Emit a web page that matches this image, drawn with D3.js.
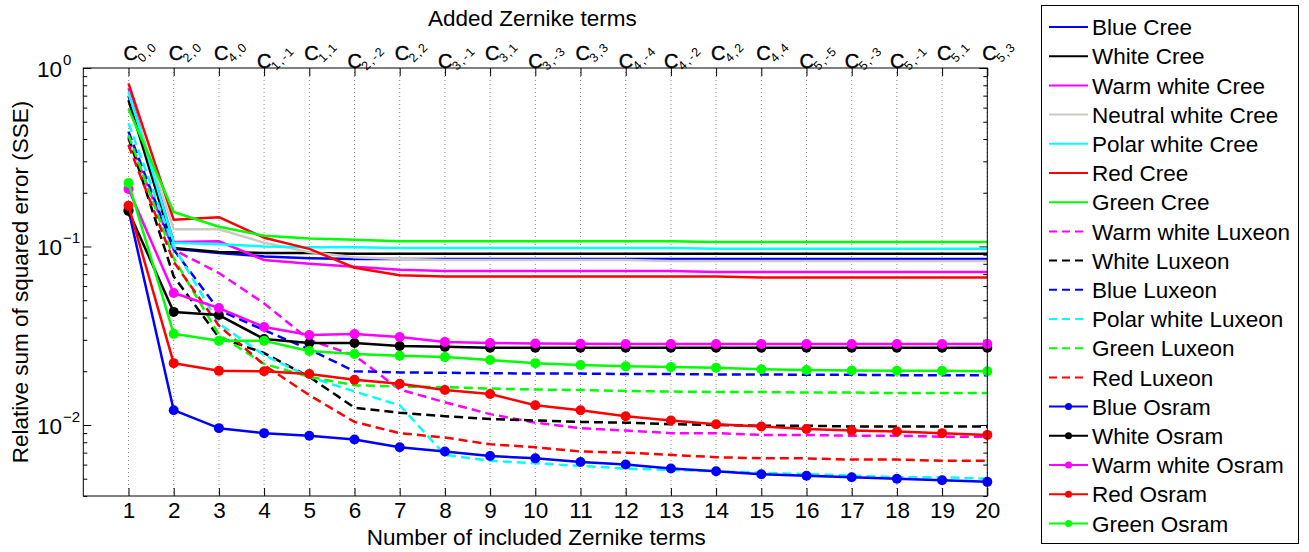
<!DOCTYPE html>
<html>
<head>
<meta charset="utf-8">
<script src="https://cdn.jsdelivr.net/npm/d3@7"></script>
<style>
  body { margin: 0; background: #fff; }
  svg { display: block; font-family: "Liberation Sans", Arial, Helvetica, sans-serif; }
</style>
</head>
<body>
<svg id="chart" width="1309" height="552"></svg>
<script>
/* Relative SSE vs number of Zernike terms, log y axis */

const terms = d3.range(1, 21);
const zernikeN = [0, 2, 4, 1, 1, 2, 2, 3, 3, 3, 3, 4, 4, 4, 4, 5, 5, 5, 5, 5];
const zernikeM = [0, 0, 0, -1, 1, -2, 2, -1, 1, -3, 3, -4, -2, 2, 4, -5, -3, -1, 1, 3];
const yMajorTicks = [1, 0.1, 0.01];
const yMajorExp = ['0', '\u22121', '\u22122'];

// Cree (solid)
const blueCree = [0.70, 0.097, 0.092, 0.088, 0.086, 0.085, 0.085, 0.085, 0.085, 0.085, 0.085, 0.085, 0.085, 0.085, 0.085, 0.085, 0.085, 0.085, 0.085, 0.085];
const whiteCree = [0.66, 0.098, 0.093, 0.092, 0.092, 0.091, 0.091, 0.091, 0.091, 0.091, 0.091, 0.091, 0.091, 0.091, 0.091, 0.091, 0.091, 0.091, 0.091, 0.091];
const warmWhiteCree = [0.77, 0.106, 0.107, 0.084, 0.080, 0.077, 0.074, 0.073, 0.073, 0.073, 0.073, 0.073, 0.073, 0.072, 0.072, 0.072, 0.072, 0.072, 0.072, 0.072];
const neutralWhiteCree = [0.72, 0.125, 0.125, 0.105, 0.093, 0.087, 0.085, 0.084, 0.084, 0.084, 0.084, 0.084, 0.083, 0.083, 0.083, 0.083, 0.083, 0.083, 0.083, 0.083];
const polarWhiteCree = [0.74, 0.105, 0.103, 0.100, 0.099, 0.099, 0.098, 0.098, 0.098, 0.098, 0.098, 0.098, 0.098, 0.097, 0.097, 0.097, 0.097, 0.097, 0.097, 0.097];
const redCree = [0.82, 0.141, 0.146, 0.112, 0.097, 0.076, 0.069, 0.068, 0.068, 0.068, 0.068, 0.068, 0.068, 0.068, 0.067, 0.067, 0.067, 0.067, 0.067, 0.067];
const greenCree = [0.59, 0.156, 0.129, 0.115, 0.111, 0.109, 0.107, 0.107, 0.107, 0.107, 0.107, 0.107, 0.107, 0.106, 0.106, 0.106, 0.106, 0.106, 0.106, 0.106];

// Luxeon (dashed)
const warmWhiteLuxeon = [0.40, 0.096, 0.071, 0.048, 0.030, 0.0245, 0.0158, 0.0134, 0.0115, 0.0103, 0.0096, 0.0093, 0.0090, 0.0090, 0.0088, 0.0088, 0.0087, 0.0087, 0.0086, 0.0086];
const whiteLuxeon = [0.41, 0.068, 0.031, 0.0253, 0.0186, 0.0125, 0.0117, 0.0112, 0.0108, 0.0106, 0.0104, 0.0103, 0.0101, 0.0100, 0.0099, 0.0099, 0.0098, 0.0098, 0.0098, 0.0098];
const blueLuxeon = [0.44, 0.096, 0.044, 0.034, 0.0265, 0.0200, 0.0197, 0.0196, 0.0195, 0.0194, 0.0194, 0.0193, 0.0193, 0.0192, 0.0192, 0.0191, 0.0191, 0.0190, 0.0190, 0.0190];
const polarWhiteLuxeon = [0.49, 0.100, 0.037, 0.0246, 0.0186, 0.0154, 0.0129, 0.0068, 0.0063, 0.0061, 0.0059, 0.0057, 0.0056, 0.0055, 0.0054, 0.0053, 0.0052, 0.0051, 0.0051, 0.0050];
const greenLuxeon = [0.42, 0.086, 0.032, 0.022, 0.0186, 0.0167, 0.0164, 0.0163, 0.0160, 0.0158, 0.0157, 0.0155, 0.0154, 0.0153, 0.0153, 0.0152, 0.0152, 0.0151, 0.0151, 0.0151];
const redLuxeon = [0.37, 0.082, 0.036, 0.0217, 0.0147, 0.0104, 0.0090, 0.0085, 0.0078, 0.0075, 0.0071, 0.0070, 0.0068, 0.0066, 0.0065, 0.0065, 0.0064, 0.0064, 0.0063, 0.0063];

// Osram (dots)
const blueOsram = [0.16, 0.0121, 0.0096, 0.0090, 0.0087, 0.0083, 0.0075, 0.0071, 0.0067, 0.0065, 0.0062, 0.0060, 0.0057, 0.0055, 0.0053, 0.0052, 0.0051, 0.0050, 0.0049, 0.0048];
const whiteOsram = [0.158, 0.043, 0.0413, 0.0303, 0.0288, 0.0288, 0.0277, 0.0274, 0.0271, 0.0271, 0.0271, 0.0271, 0.0271, 0.0271, 0.0271, 0.0271, 0.0271, 0.0271, 0.0271, 0.0271];
const warmWhiteOsram = [0.21, 0.0549, 0.0452, 0.0354, 0.0319, 0.0323, 0.0311, 0.0292, 0.0288, 0.0286, 0.0285, 0.0284, 0.0284, 0.0284, 0.0284, 0.0284, 0.0284, 0.0284, 0.0284, 0.0284];
const redOsram = [0.169, 0.0222, 0.0201, 0.0200, 0.0193, 0.0179, 0.0170, 0.0157, 0.0149, 0.0129, 0.0121, 0.0112, 0.0106, 0.0101, 0.0098, 0.0095, 0.0093, 0.0092, 0.0090, 0.0088];
const greenOsram = [0.227, 0.0324, 0.0296, 0.0296, 0.0260, 0.0250, 0.0244, 0.0240, 0.0231, 0.0222, 0.0217, 0.0213, 0.0211, 0.0209, 0.0205, 0.0203, 0.0202, 0.0201, 0.0201, 0.0200];

const SERIES = [
  { name: 'Blue Cree', values: blueCree, color: '#0000ff', kind: 'solid' },
  { name: 'White Cree', values: whiteCree, color: '#000000', kind: 'solid' },
  { name: 'Warm white Cree', values: warmWhiteCree, color: '#ff00ff', kind: 'solid' },
  { name: 'Neutral white Cree', values: neutralWhiteCree, color: '#cdc9c2', kind: 'solid' },
  { name: 'Polar white Cree', values: polarWhiteCree, color: '#00ffff', kind: 'solid' },
  { name: 'Red Cree', values: redCree, color: '#ff0000', kind: 'solid' },
  { name: 'Green Cree', values: greenCree, color: '#00ff00', kind: 'solid' },
  { name: 'Warm white Luxeon', values: warmWhiteLuxeon, color: '#ff00ff', kind: 'dash' },
  { name: 'White Luxeon', values: whiteLuxeon, color: '#000000', kind: 'dash' },
  { name: 'Blue Luxeon', values: blueLuxeon, color: '#0000ff', kind: 'dash' },
  { name: 'Polar white Luxeon', values: polarWhiteLuxeon, color: '#00ffff', kind: 'dash' },
  { name: 'Green Luxeon', values: greenLuxeon, color: '#00ff00', kind: 'dash' },
  { name: 'Red Luxeon', values: redLuxeon, color: '#ff0000', kind: 'dash' },
  { name: 'Blue Osram', values: blueOsram, color: '#0000ff', kind: 'dot' },
  { name: 'White Osram', values: whiteOsram, color: '#000000', kind: 'dot' },
  { name: 'Warm white Osram', values: warmWhiteOsram, color: '#ff00ff', kind: 'dot' },
  { name: 'Red Osram', values: redOsram, color: '#ff0000', kind: 'dot' },
  { name: 'Green Osram', values: greenOsram, color: '#00ff00', kind: 'dot' }
];

const DASH = '9,5';
const FONT = 22.5;
const plot = { left: 83.3, right: 987.3, top: 68, bottom: 496 };

const svg = d3.select('#chart');

const x = d3.scaleLinear().domain([0, 20]).range([plot.left, plot.right]);
const y = d3.scaleLog().domain([0.004, 1]).range([plot.bottom, plot.top]);

// minor log ticks 2..9 x 10^k inside the domain
const yMinorTicks = [];
[0.001, 0.01, 0.1].forEach(p => {
  for (let k = 2; k <= 9; k++) {
    const v = k * p;
    if (v >= 0.004 && v < 1) yMinorTicks.push(v);
  }
});

// vertical dotted grid
svg.append('g')
  .selectAll('line')
  .data(terms)
  .join('line')
  .attr('x1', d => x(d)).attr('x2', d => x(d))
  .attr('y1', plot.top).attr('y2', plot.bottom)
  .attr('stroke', '#8a8a8a')
  .attr('stroke-width', 1)
  .attr('stroke-dasharray', '1,3');

function styleAxis(g) {
  g.select('.domain').remove();
  g.selectAll('.tick line').attr('stroke', '#000');
  g.selectAll('.tick text').attr('fill', '#000').attr('font-size', FONT);
  g.attr('font-family', null);
}

// bottom axis
svg.append('g')
  .attr('transform', `translate(0,${plot.bottom})`)
  .call(d3.axisBottom(x).tickValues(terms).tickSizeInner(-8).tickSizeOuter(0)
    .tickPadding(6).tickFormat(d3.format('d')))
  .call(styleAxis);

// top axis ticks
svg.append('g')
  .attr('transform', `translate(0,${plot.top})`)
  .call(d3.axisTop(x).tickValues(terms).tickSizeInner(-8).tickSizeOuter(0).tickFormat(''))
  .call(styleAxis);

// left / right log ticks
svg.append('g')
  .attr('transform', `translate(${plot.left},0)`)
  .call(d3.axisLeft(y).tickValues(yMajorTicks).tickSizeInner(-8).tickSizeOuter(0).tickFormat(''))
  .call(styleAxis);
svg.append('g')
  .attr('transform', `translate(${plot.left},0)`)
  .call(d3.axisLeft(y).tickValues(yMinorTicks).tickSizeInner(-4).tickSizeOuter(0).tickFormat(''))
  .call(styleAxis);
svg.append('g')
  .attr('transform', `translate(${plot.right},0)`)
  .call(d3.axisRight(y).tickValues(yMajorTicks).tickSizeInner(-8).tickSizeOuter(0).tickFormat(''))
  .call(styleAxis);
svg.append('g')
  .attr('transform', `translate(${plot.right},0)`)
  .call(d3.axisRight(y).tickValues(yMinorTicks).tickSizeInner(-4).tickSizeOuter(0).tickFormat(''))
  .call(styleAxis);

// y tick labels 10^k
const yLab = svg.append('g')
  .selectAll('g')
  .data(yMajorTicks)
  .join('g')
  .attr('transform', d => `translate(62,${y(d) + 9})`);
yLab.append('text')
  .attr('text-anchor', 'end')
  .attr('font-size', FONT)
  .text('10');
yLab.append('text')
  .attr('x', 1)
  .attr('y', -12)
  .attr('font-size', 15)
  .text((d, i) => yMajorExp[i]);

// data lines
const line = d3.line()
  .x((d, i) => x(terms[i]))
  .y(d => y(d));

const seriesG = svg.append('g')
  .selectAll('g')
  .data(SERIES)
  .join('g');

seriesG.append('path')
  .attr('d', d => line(d.values))
  .attr('fill', 'none')
  .attr('stroke', d => d.color)
  .attr('stroke-width', 2.5)
  .attr('stroke-linejoin', 'round')
  .attr('stroke-dasharray', d => d.kind === 'dash' ? DASH : null);

seriesG.filter(d => d.kind === 'dot')
  .selectAll('circle')
  .data(d => d.values.map(v => ({ v, color: d.color })))
  .join('circle')
  .attr('cx', (d, i) => x(terms[i]))
  .attr('cy', d => y(d.v))
  .attr('r', 5)
  .attr('fill', d => d.color);

// axes box
svg.append('rect')
  .attr('x', plot.left).attr('y', plot.top)
  .attr('width', plot.right - plot.left)
  .attr('height', plot.bottom - plot.top)
  .attr('fill', 'none')
  .attr('stroke', '#000')
  .attr('stroke-width', 1);

// top labels C_{n,m}
const topLab = svg.append('g')
  .selectAll('g')
  .data(terms)
  .join('g')
  .attr('transform', (d, i) => zernikeM[i] < 0
    ? `translate(${x(d) - 7},68)`
    : `translate(${x(d) - 5},60)`);
topLab.append('text')
  .attr('font-size', 20)
  .attr('stroke', '#000')
  .attr('stroke-width', 0.4)
  .text('C');
topLab.append('text')
  .attr('transform', 'translate(19,3) rotate(-45)')
  .attr('font-size', 12.5)
  .attr('letter-spacing', 1.5)
  .text((d, i) => `${zernikeN[i]},${zernikeM[i]}`);

// titles
svg.append('text')
  .attr('x', (plot.left + plot.right) / 2 - 3)
  .attr('y', 26)
  .attr('text-anchor', 'middle')
  .attr('font-size', FONT)
  .text('Added Zernike terms');

svg.append('text')
  .attr('x', (plot.left + plot.right) / 2 + 1)
  .attr('y', 545)
  .attr('text-anchor', 'middle')
  .attr('font-size', FONT)
  .text('Number of included Zernike terms');

svg.append('text')
  .attr('transform', `translate(28,${(plot.top + plot.bottom) / 2}) rotate(-90)`)
  .attr('text-anchor', 'middle')
  .attr('font-size', FONT)
  .text('Relative sum of squared error (SSE)');

// legend
const legend = svg.append('g');
legend.append('rect')
  .attr('x', 1041.5).attr('y', 5.5)
  .attr('width', 257).attr('height', 538)
  .attr('fill', '#fff')
  .attr('stroke', '#000')
  .attr('stroke-width', 1);

const rowH = 29.2;
const item = legend.selectAll('g.item')
  .data(SERIES)
  .join('g')
  .attr('class', 'item')
  .attr('transform', (d, i) => `translate(1049,${27 + i * rowH})`);

item.append('line')
  .attr('x1', 0).attr('x2', 39)
  .attr('stroke', d => d.color)
  .attr('stroke-width', 2)
  .attr('stroke-dasharray', d => d.kind === 'dash' ? '8,5' : null);

item.filter(d => d.kind === 'dot')
  .append('circle')
  .attr('cx', 19.5)
  .attr('r', 3.5)
  .attr('fill', d => d.color);

item.append('text')
  .attr('x', 43)
  .attr('dy', '0.36em')
  .attr('font-size', FONT)
  .text(d => d.name);
</script>
</body>
</html>
